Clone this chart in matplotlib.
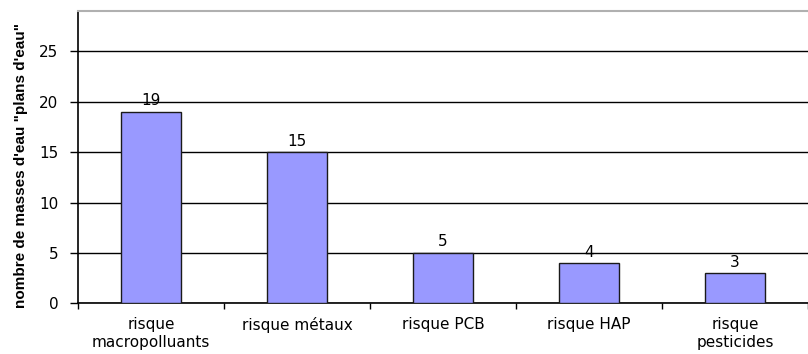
import matplotlib
matplotlib.use("Agg")
import matplotlib.pyplot as plt
import numpy as np

categories = ["risque\nmacropolluants", "risque métaux", "risque PCB",
              "risque HAP", "risque\npesticides"]
counts = [19, 15, 5, 4, 3]
yticks = [0, 5, 10, 15, 20, 25]

plt.rcParams["font.family"] = ["DejaVu Sans"]

fig = plt.figure(figsize=(8.08, 3.54), dpi=100)
ax = fig.add_axes([78 / 808, 1 - 303.3 / 354, 1 - 78 / 808, (303.3 - 11) / 354])

x = np.arange(len(categories))
ax.bar(x, counts, width=0.41, color="#9999FF", edgecolor="#1a1a1a",
       linewidth=1.0, zorder=3)
for xi, v in zip(x, counts):
    ax.annotate(str(v), (xi, v), xytext=(0, 2.5), textcoords="offset points",
                ha="center", va="bottom", fontsize=11)

ax.set_xlim(-0.5, -0.5 + (808 - 78) / 149)
ax.set_ylim(0, 29)
ax.set_yticks(yticks)
ax.yaxis.grid(True, color="black", linewidth=1.0, zorder=0)
ax.tick_params(axis="y", length=6, width=1, labelsize=11, pad=8)

# category names centred, tick marks between categories
ax.set_xticks(x)
ax.set_xticklabels(categories, fontsize=11, linespacing=1.25)
ax.tick_params(axis="x", which="major", length=0, pad=10)
ax.set_xticks(np.arange(-0.5, len(categories), 1.0), minor=True)
ax.tick_params(axis="x", which="minor", length=4, width=1)

for side in ("left", "bottom"):
    ax.spines[side].set_color("black")
    ax.spines[side].set_linewidth(1.2)
ax.spines["right"].set_visible(False)
ax.spines["top"].set_color("#b0b0b0")
ax.spines["top"].set_linewidth(1.5)

fig.text(21 / 808, 1 - 166 / 354, "nombre de masses d'eau \"plans d'eau\"",
         rotation=90, ha="center", va="center", fontsize=11,
         fontweight="bold", family="Liberation Sans")

fig.savefig("out.png", dpi=100)
